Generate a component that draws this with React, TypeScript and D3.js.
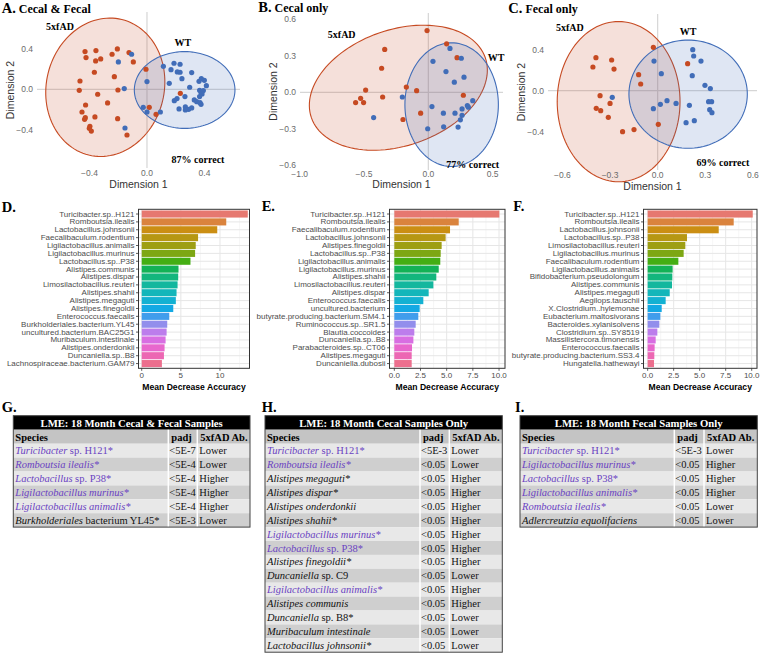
import React from 'react';
import * as d3 from 'd3';

const SERIF = '"Liberation Serif", "Times New Roman", serif';
const SANS = '"Liberation Sans", Arial, sans-serif';
const RED = '#c64a22';
const BLUE = '#416db8';
const PURPLE = '#6a42c2';

// ---- PCoA points: [Dimension 1, Dimension 2] ----
const aAD = [[-0.431,0.372],[-0.355,0.382],[-0.206,0.398],[-0.125,0.362],[-0.424,0.313],[-0.357,0.28],[-0.322,0.3],[-0.243,0.346],[-0.095,0.27],[-0.366,0.168],[-0.227,0.125],[-0.466,0.082],[-0.471,-0.01],[-0.343,-0.049],[-0.202,-0.007],[-0.274,-0.135],[-0.427,-0.155],[-0.452,-0.224],[-0.429,-0.28],[-0.434,-0.296],[-0.362,-0.273],[-0.204,-0.29],[-0.397,-0.365],[-0.401,-0.385],[-0.387,-0.412],[-0.139,-0.451],[-0.007,0.198],[0.016,-0.178],[0.063,-0.247],[0.232,-0.04]];
const aWT = [[-0.107,0.346],[-0.199,0.27],[0.114,0.227],[0.188,0.257],[0.23,0.247],[0.167,0.194],[0.211,0.171],[0.23,0.168],[0.311,0.165],[0,0.076],[-0.158,0.007],[0.155,0.059],[0.243,0.105],[0.297,0.02],[0.362,0.079],[0.378,0.105],[0.399,0.089],[0.413,0.036],[0.366,-0.01],[0.376,-0.033],[0.392,-0.013],[0.383,-0.046],[0.366,-0.072],[0.19,-0.112],[0.209,-0.092],[0.264,-0.072],[0.223,-0.194],[0.267,-0.174],[0.329,-0.105],[0.346,-0.122],[0.369,-0.132],[0.376,-0.148],[0.311,-0.184],[0.29,-0.198],[0.267,-0.204],[-0.026,-0.178],[0,-0.224],[0.093,-0.224],[-0.153,-0.382]];
const bAD = [[-0.01,0.508],[0.142,0.399],[-0.339,0.353],[-0.363,0.198],[-0.487,0.019],[-0.526,-0.049],[-0.503,-0.084],[-0.565,-0.084],[-0.355,-0.038],[-0.171,0.043],[-0.091,0.014],[0.223,0.285],[0.272,-0.024],[-0.06,-0.171],[-0.197,-0.223]];
const bWT = [[0.168,0.361],[0.036,0.255],[0.256,0.28],[0.137,0.171],[0.202,0.084],[0.277,0.125],[-0.202,-0.038],[-0.425,-0.207],[0.028,-0.117],[0.345,-0.068],[0.303,-0.109],[0.311,-0.122],[0.262,-0.136],[0.207,-0.171],[0.117,-0.171],[0.262,-0.188],[0.249,-0.226],[0.119,-0.283],[0.231,-0.285],[-0.005,-0.299]];
const cAD = [[-0.027,0.423],[-0.389,0.322],[-0.29,0.299],[-0.408,0.231],[-0.275,0.211],[-0.12,0.156],[-0.107,0.065],[-0.363,-0.049],[-0.387,-0.172],[-0.359,-0.195],[-0.3,-0.124],[-0.311,-0.26],[-0.221,-0.4],[-0.149,-0.38],[0.004,-0.328],[0.189,0.263]];
const cWT = [[-0.023,0.289],[0.023,0.166],[0.221,0.4],[0.227,0.338],[0.273,0.289],[0.218,0.146],[0.298,0.052],[0.332,0.02],[-0.286,-0.065],[-0.027,-0.176],[0.017,-0.133],[0.059,-0.098],[0.116,-0.124],[0.2,-0.143],[0.321,-0.107],[0.34,-0.107],[0.328,-0.185],[0.342,-0.215],[0.179,-0.312],[0.231,-0.293]];

// group ellipses: centre + two conjugate half-axes, data units
const aEll = { ad: { cx: -0.29, cy: 0.02, ux: 0.115, uy: 0.669, vx: 0.398, vy: -0.138 }, wt: { cx: 0.262, cy: -0.007, ux: 0.35, uy: 0, vx: 0, vy: 0.379 } };
const bEll = { ad: { cx: -0.233, cy: 0.038, ux: 0.675, uy: 0.248, vx: 0.15, vy: -0.45 }, wt: { cx: 0.181, cy: -0.101, ux: 0.363, uy: 0, vx: 0, vy: 0.508 } };
const cEll = { ad: { cx: -0.246, cy: -0.107, ux: 0.387, uy: 0, vx: 0, vy: 0.782 }, wt: { cx: 0.192, cy: -0.034, ux: 0.373, uy: 0, vx: 0, vy: 0.528 } };

// ---- random forest importance ----
const dSpecies = ['Turicibacter.sp..H121','Romboutsia.ilealis','Lactobacillus.johnsonii','Faecalibaculum.rodentium','Ligilactobacillus.animalis','Ligilactobacillus.murinus','Lactobacillus.sp..P38','Alistipes.communis','Alistipes.dispar','Limosilactobacillus.reuteri','Alistipes.shahii','Alistipes.megaguti','Alistipes.finegoldii','Enterococcus.faecalis','Burkholderiales.bacterium.YL45','uncultured.bacterium.BAC25G1','Muribaculum.intestinale','Alistipes.onderdonkii','Duncaniella.sp..B8','Lachnospiraceae.bacterium.GAM79'];
const dMDA = [13.55,10.8,9.65,7.2,6.9,6.82,6.23,4.7,4.66,4.58,4.45,4.36,4.03,3.52,3.26,3.18,3.05,2.92,2.84,2.58];
const eSpecies = ['Turicibacter.sp..H121','Romboutsia.ilealis','Faecalibaculum.rodentium','Lactobacillus.johnsonii','Alistipes.finegoldii','Lactobacillus.sp..P38','Ligilactobacillus.animalis','Ligilactobacillus.murinus','Alistipes.shahii','Limosilactobacillus.reuteri','Alistipes.dispar','Enterococcus.faecalis','uncultured.bacterium','butyrate.producing.bacterium.SM4.1','Ruminococcus.sp..SR1.5','Blautia.coccoides','Duncaniella.sp..B8','Parabacteroides.sp..CT06','Alistipes.megaguti','Duncaniella.dubosii'];
const eMDA = [10.03,6.15,5.32,4.9,4.52,4.43,4.39,4.24,4.01,3.73,3.28,2.77,2.42,2.29,2.04,1.91,1.82,1.69,1.66,1.66];
const fSpecies = ['Turicibacter.sp..H121','Romboutsia.ilealis','Lactobacillus.johnsonii','Lactobacillus.sp..P38','Limosilactobacillus.reuteri','Ligilactobacillus.murinus','Faecalibaculum.rodentium','Ligilactobacillus.animalis','Bifidobacterium.pseudolongum','Alistipes.communis','Alistipes.megaguti','Aegilops.tauschii','X.Clostridium..hylemonae','Eubacterium.maltosivorans','Bacteroides.xylanisolvens','Clostridium.sp..SY8519','Massilistercora.timonensis','Enterococcus.faecalis','butyrate.producing.bacterium.SS3.4','Hungatella.hathewayi'];
const fMDA = [10.1,8.27,6.83,3.78,3.62,3.46,2.95,2.4,2.37,2.34,2.12,1.73,1.35,1.22,1.12,0.93,0.77,0.67,0.64,0.61];

// ggplot hue palette, 20 levels (toned down a bit, as printed)
const hue20 = ['#F8766D','#EA8331','#D89000','#C09B00','#A3A500','#7CAE00','#39B600','#00BB4E','#00BF7D','#00C1A3','#00BFC4','#00BAE0','#00B0F6','#35A2FF','#9590FF','#C77CFF','#E76BF3','#FA62DB','#FF62BC','#FF6C91']
  .map(c => d3.interpolateRgb(c, '#808080')(0.15));

// ---- LME tables ----
const gSpecies = ['Turicibacter sp. H121*','Romboutsia ilealis*','Lactobacillus sp. P38*','Ligilactobacillus murinus*','Ligilactobacillus animalis*','Burkholderiales bacterium YL45*'];
const gPadj = ['<5E-7','<5E-4','<5E-4','<5E-4','<5E-4','<5E-3'];
const gAb = ['Lower','Lower','Higher','Higher','Higher','Lower'];
const gShared = [1,1,1,1,1,0];
const hSpecies = ['Turicibacter sp. H121*','Romboutsia ilealis*','Alistipes megaguti*','Alistipes dispar*','Alistipes onderdonkii','Alistipes shahii*','Ligilactobacillus murinus*','Lactobacillus sp. P38*','Alistipes finegoldii*','Duncaniella sp. C9','Ligilactobacillus animalis*','Alistipes communis','Duncaniella sp. B8*','Muribaculum intestinale','Lactobacillus johnsonii*'];
const hPadj = ['<5E-3','<0.05','<0.05','<0.05','<0.05','<0.05','<0.05','<0.05','<0.05','<0.05','<0.05','<0.05','<0.05','<0.05','<0.05'];
const hAb = ['Lower','Lower','Higher','Higher','Higher','Higher','Higher','Higher','Higher','Lower','Higher','Higher','Lower','Lower','Lower'];
const hShared = [1,1,0,0,0,0,1,1,0,0,1,0,0,0,0];
const iSpecies = ['Turicibacter sp. H121*','Ligilactobacillus murinus*','Lactobacillus sp. P38*','Ligilactobacillus animalis*','Romboutsia ilealis*','Adlercreutzia equolifaciens'];
const iPadj = ['<5E-3','<0.05','<0.05','<0.05','<0.05','<0.05'];
const iAb = ['Lower','Higher','Higher','Higher','Lower','Lower'];
const iShared = [1,1,1,1,1,0];

const fmt = (v: number) => d3.format('.1f')(v).replace('-', '\u2212');

function Scatter({ c }: any) {
  const x = d3.scaleLinear().domain(c.xDomain).range([c.left, c.right]);
  const y = d3.scaleLinear().domain(c.yDomain).range([c.bottom, c.top]);
  const line = d3.line<number[]>().x(d => x(d[0])).y(d => y(d[1])).curve(d3.curveLinearClosed);
  const ell = (e: any) => line(d3.range(0, 360, 3).map(a => {
    const t = a * Math.PI / 180;
    return [e.cx + e.ux * Math.cos(t) + e.vx * Math.sin(t), e.cy + e.uy * Math.cos(t) + e.vy * Math.sin(t)];
  }));
  const lab = { fontFamily: SERIF, fontWeight: 700, fontSize: 10 } as any;
  return (
    <g>
      <line x1={c.left} x2={c.right} y1={y(0)} y2={y(0)} stroke="#d6d6d6" strokeWidth={1.2} />
      <line x1={x(0)} x2={x(0)} y1={c.top} y2={c.bottom} stroke="#d6d6d6" strokeWidth={1.2} />
      <path d={ell(c.ell.ad) || ''} fill={RED} fillOpacity={0.17} stroke={RED} strokeWidth={1.1} />
      <path d={ell(c.ell.wt) || ''} fill={BLUE} fillOpacity={0.17} stroke={BLUE} strokeWidth={1.1} />
      {c.ad.map((p: number[], i: number) => <circle key={'r' + i} cx={x(p[0])} cy={y(p[1])} r={2.6} fill={RED} />)}
      {c.wt.map((p: number[], i: number) => <circle key={'b' + i} cx={x(p[0])} cy={y(p[1])} r={2.6} fill={BLUE} />)}
      {c.xTicks.map((t: number) => (
        <text key={'x' + t} x={x(t)} y={c.xTickY} textAnchor="middle" dominantBaseline="central" fontFamily={SANS} fontSize={8.5} fill="#6b6b6b">{fmt(t)}</text>
      ))}
      {c.yTicks.map((t: number) => (
        <text key={'y' + t} x={c.left - 4} y={y(t)} textAnchor="end" dominantBaseline="central" fontFamily={SANS} fontSize={8.5} fill="#6b6b6b">{fmt(t)}</text>
      ))}
      <text x={(c.left + c.right) / 2} y={c.xTitleY} textAnchor="middle" dominantBaseline="central" fontFamily={SANS} fontSize={10.5} fill="#333">Dimension 1</text>
      <text transform={`translate(${c.left - 27},${(c.top + c.bottom) / 2}) rotate(-90)`} textAnchor="middle" dominantBaseline="central" fontFamily={SANS} fontSize={10.5} fill="#333">Dimension 2</text>
      <text x={x(c.labAD[0])} y={y(c.labAD[1])} textAnchor="middle" dominantBaseline="central" {...lab}>5xfAD</text>
      <text x={x(c.labWT[0])} y={y(c.labWT[1])} textAnchor="middle" dominantBaseline="central" {...lab}>WT</text>
      <text x={x(c.labPct[0])} y={y(c.labPct[1])} textAnchor="middle" dominantBaseline="central" {...lab}>{c.pct}</text>
    </g>
  );
}

function Bars({ c, names, vals }: any) {
  const x = d3.scaleLinear().domain(c.xDomain).range([c.left, c.right]);
  const y = d3.scalePoint<string>().domain(names).range([c.top, c.bottom]).padding(0.6);
  const bh = y.step() * 0.9;
  const half = (c.ticks[1] - c.ticks[0]) / 2;
  const minor = c.ticks.map((t: number) => t + half).filter((t: number) => x(t) < c.right);
  return (
    <g>
      <rect x={c.left} y={c.top} width={c.right - c.left} height={c.bottom - c.top} fill="#fff" />
      {minor.map((t: number) => <line key={'m' + t} x1={x(t)} x2={x(t)} y1={c.top} y2={c.bottom} stroke="#f0f0f0" strokeWidth={0.6} />)}
      {c.ticks.map((t: number) => <line key={'g' + t} x1={x(t)} x2={x(t)} y1={c.top} y2={c.bottom} stroke="#e6e6e6" strokeWidth={1} />)}
      {names.map((n: string) => <line key={'h' + n} x1={c.left} x2={c.right} y1={y(n)} y2={y(n)} stroke="#e6e6e6" strokeWidth={1} />)}
      {names.map((n: string, i: number) => (
        <rect key={'b' + n} x={x(0)} y={(y(n) as number) - bh / 2} width={x(vals[i]) - x(0)} height={bh} fill={hue20[i]} />
      ))}
      <rect x={c.left} y={c.top} width={c.right - c.left} height={c.bottom - c.top} fill="none" stroke="#333" strokeWidth={1} />
      {names.map((n: string) => (
        <g key={'l' + n}>
          <line x1={c.left - 2.5} x2={c.left} y1={y(n)} y2={y(n)} stroke="#333" strokeWidth={0.8} />
          <text x={c.left - 4} y={y(n)} textAnchor="end" dominantBaseline="central" fontFamily={SANS} fontSize={8} fill="#4d4d4d">{n}</text>
        </g>
      ))}
      {c.ticks.map((t: number) => (
        <g key={'t' + t}>
          <line x1={x(t)} x2={x(t)} y1={c.bottom} y2={c.bottom + 2.5} stroke="#333" strokeWidth={0.8} />
          <text x={x(t)} y={c.bottom + 7} textAnchor="middle" dominantBaseline="central" fontFamily={SANS} fontSize={8} fill="#4d4d4d">{c.tickFmt(t)}</text>
        </g>
      ))}
      <text x={(c.left + c.right) / 2} y={c.bottom + 18.5} textAnchor="middle" dominantBaseline="central" fontFamily={SANS} fontWeight={700} fontSize={8.6} fill="#000">Mean Decrease Accuracy</text>
    </g>
  );
}

function speciesText(name: string) {
  const w = name.split(' ');
  if (w.length > 1 && (w[1] === 'sp.' || w[1] === 'bacterium')) {
    return [<tspan key="i" fontStyle="italic">{w[0]}</tspan>, <tspan key="r">{' ' + w.slice(1).join(' ')}</tspan>];
  }
  return [<tspan key="i" fontStyle="italic">{name}</tspan>];
}

function Table({ c, title, names, padj, ab, shared }: any) {
  const rowH = 13.9;
  const y = d3.scaleBand<number>().domain(d3.range(names.length)).range([c.top + 28, c.top + 28 + rowH * names.length]);
  const bottom = c.top + 28 + rowH * names.length;
  const txt = { fontFamily: SERIF, fontSize: 10.5 } as any;
  return (
    <g>
      <rect x={c.left} y={c.top} width={c.right - c.left} height={14} fill="#000" />
      <text x={(c.left + c.right) / 2} y={c.top + 7} textAnchor="middle" dominantBaseline="central" fontFamily={SERIF} fontWeight={700} fontSize={10.7} fill="#fff">{title}</text>
      <rect x={c.left} y={c.top + 14} width={c.right - c.left} height={14} fill="#c4c4c4" />
      <text x={c.left + 2} y={c.top + 25} fontFamily={SERIF} fontWeight={700} fontSize={10.5}>Species</text>
      <text x={c.c1 + 3} y={c.top + 25} fontFamily={SERIF} fontWeight={700} fontSize={10.5}>padj</text>
      <text x={c.c2 + 3} y={c.top + 25} fontFamily={SERIF} fontWeight={700} fontSize={10.5}>5xfAD Ab.</text>
      {names.map((n: string, i: number) => (
        <g key={n}>
          <rect x={c.left} y={y(i)} width={c.right - c.left} height={rowH} fill={i % 2 === 0 ? '#e8e8e8' : '#cfcfcf'} />
          <text x={c.left + 2} y={(y(i) as number) + rowH / 2 + 3.6} {...txt} fill={shared[i] ? PURPLE : '#111'}>{speciesText(n)}</text>
          <text x={c.c1 + 1} y={(y(i) as number) + rowH / 2 + 3.6} {...txt} fill="#111">{padj[i]}</text>
          <text x={c.c2 + 2} y={(y(i) as number) + rowH / 2 + 3.6} {...txt} fill="#111">{ab[i]}</text>
        </g>
      ))}
      <line x1={c.c1} x2={c.c1} y1={c.top + 14} y2={bottom} stroke="#fff" strokeWidth={1.5} />
      <line x1={c.c2} x2={c.c2} y1={c.top + 14} y2={bottom} stroke="#fff" strokeWidth={1.5} />
      <rect x={c.left} y={c.top} width={c.right - c.left} height={bottom - c.top} fill="none" stroke="#444" strokeWidth={1} />
    </g>
  );
}

const scA = { left: 37, right: 240, top: 12, bottom: 168, xDomain: [-0.765, 0.647], yDomain: [-0.777, 0.763], xTicks: [-0.4, 0, 0.4], yTicks: [-0.4, 0, 0.4], xTickY: 173.3, xTitleY: 184, ad: aAD, wt: aWT, ell: aEll, labAD: [-0.605, 0.615], labWT: [0.25, 0.457], labPct: [0.355, -0.69], pct: '87% correct' };
const scB = { left: 300, right: 503, top: 13, bottom: 170, xDomain: [-0.997, 0.58], yDomain: [-0.638, 0.652], xTicks: [-1, -0.5, 0, 0.5], yTicks: [-0.6, -0.3, 0, 0.3, 0.6], xTickY: 173.8, xTitleY: 184, ad: bAD, wt: bWT, ell: bEll, labAD: [-0.673, 0.478], labWT: [0.526, 0.283], labPct: [0.345, -0.593], pct: '77% correct' };
const scC = { left: 548, right: 757, top: 14, bottom: 170, xDomain: [-0.691, 0.626], yDomain: [-0.774, 0.748], xTicks: [-0.6, -0.3, 0, 0.3, 0.6], yTicks: [-0.4, 0, 0.4], xTickY: 175, xTitleY: 185.5, ad: cAD, wt: cWT, ell: cEll, labAD: [-0.553, 0.621], labWT: [0.191, 0.573], labPct: [0.411, -0.7], pct: '69% correct' };

const barD = { left: 138.5, right: 249.5, top: 209.3, bottom: 368.3, xDomain: [-0.41, 13.77], ticks: [0, 5, 10], tickFmt: (t: number) => String(t) };
const barE = { left: 389.5, right: 505, top: 209.3, bottom: 368.3, xDomain: [-0.46, 10.57], ticks: [0, 2.5, 5, 7.5, 10], tickFmt: (t: number) => d3.format('.1f')(t) };
const barF = { left: 643.5, right: 757, top: 209.3, bottom: 368.3, xDomain: [-0.4, 10.51], ticks: [0, 2.5, 5, 7.5, 10], tickFmt: (t: number) => d3.format('.1f')(t) };

const tabG = { left: 13.3, right: 250, c1: 168.3, c2: 197.3, top: 415.7 };
const tabH = { left: 265, right: 502.3, c1: 420, c2: 449.3, top: 415.7 };
const tabI = { left: 520, right: 757.3, c1: 674.3, c2: 704, top: 415.7 };

function Letter({ x, y, l, title }: any) {
  return (
    <text x={x} y={y} fontFamily={SERIF} fontWeight={700} fill="#000">
      <tspan fontSize={14.5}>{l}</tspan>
      {title ? <tspan fontSize={12}>{' ' + title}</tspan> : null}
    </text>
  );
}

export default function App() {
  return (
    <svg width={760} height={654} style={{ position: 'absolute', left: 0, top: 0, background: '#fff' }}>
      <rect width={760} height={654} fill="#fff" />
      <Scatter c={scA} />
      <Scatter c={scB} />
      <Scatter c={scC} />
      <Letter x={1.7} y={12.5} l="A." title="Cecal & Fecal" />
      <Letter x={258.3} y={11.5} l="B." title="Cecal only" />
      <Letter x={508.3} y={12.5} l="C." title="Fecal only" />
      <Bars c={barD} names={dSpecies} vals={dMDA} />
      <Bars c={barE} names={eSpecies} vals={eMDA} />
      <Bars c={barF} names={fSpecies} vals={fMDA} />
      <Letter x={1.7} y={211.7} l="D." />
      <Letter x={261.7} y={211} l="E." />
      <Letter x={513.3} y={211} l="F." />
      <Table c={tabG} title="LME: 18 Month Cecal & Fecal Samples" names={gSpecies} padj={gPadj} ab={gAb} shared={gShared} />
      <Table c={tabH} title="LME: 18 Month Cecal Samples Only" names={hSpecies} padj={hPadj} ab={hAb} shared={hShared} />
      <Table c={tabI} title="LME: 18 Month Fecal Samples Only" names={iSpecies} padj={iPadj} ab={iAb} shared={iShared} />
      <Letter x={1.7} y={412} l="G." />
      <Letter x={261.7} y={412} l="H." />
      <Letter x={515} y={412} l="I." />
    </svg>
  );
}
